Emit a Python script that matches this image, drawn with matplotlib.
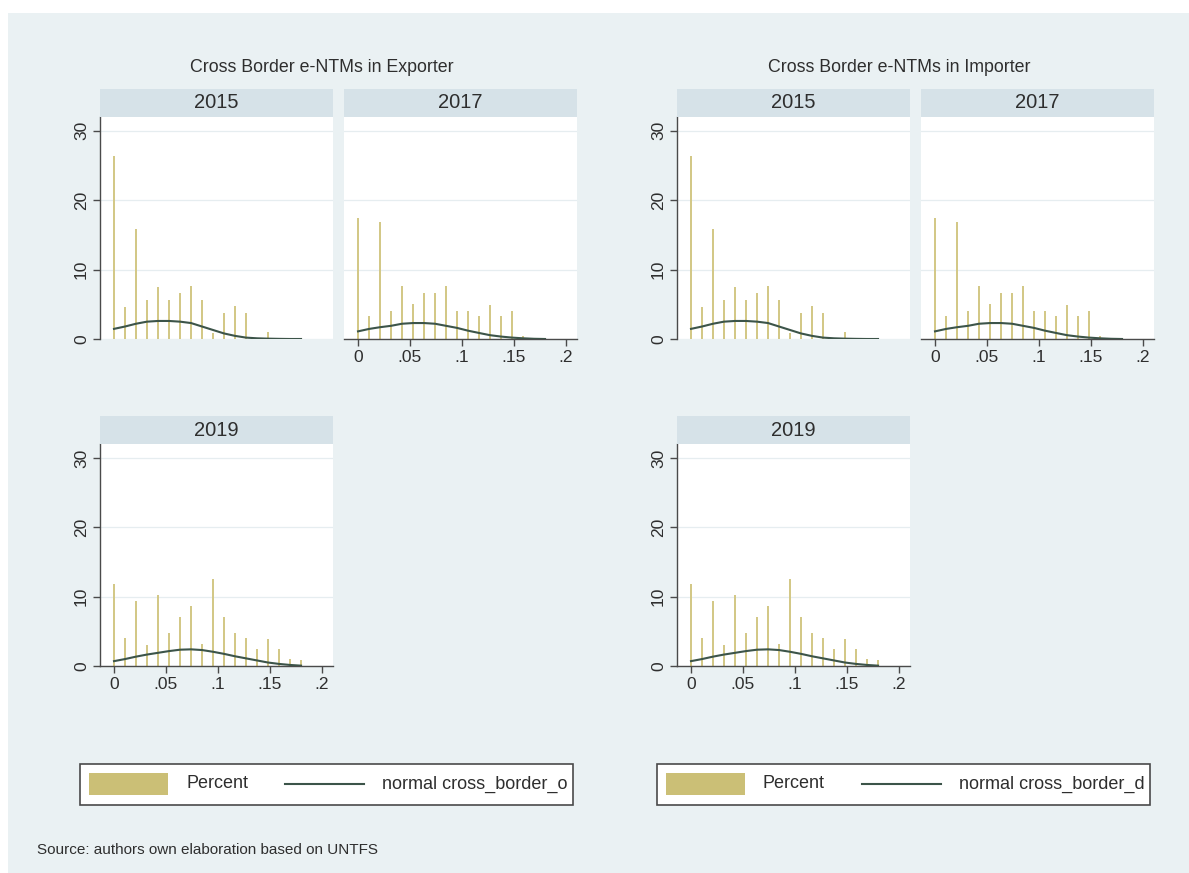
import matplotlib
matplotlib.use("Agg")
import matplotlib.pyplot as plt
from matplotlib.patches import Rectangle
from matplotlib.lines import Line2D

plt.rcParams['font.family'] = ['Liberation Sans', 'DejaVu Sans']

W, H, DPI = 1189, 873, 100

# histogram bins (share of e-NTMs) and percent per bin
bins = [0, .0106, .0212, .0318, .0424, .053, .0636, .0742, .0848,
        .0954, .106, .1166, .1272, .1378, .1484, .159, .1696, .1802]

pct_2015 = [26.4, 4.6, 15.8, 5.6, 7.5, 5.6, 6.6, 7.6, 5.6,
            0.8, 3.7, 4.7, 3.7, 0, 1.0, 0, 0, 0]
pct_2017 = [17.5, 3.3, 16.8, 4.0, 7.6, 5.1, 6.6, 6.6, 7.6,
            4.0, 4.1, 3.3, 4.9, 3.3, 4.1, 0.4, 0, 0]
pct_2019 = [11.8, 4.0, 9.3, 3.0, 10.3, 4.7, 7.0, 8.65, 3.1,
            12.6, 7.0, 4.7, 4.0, 2.5, 3.85, 2.4, 1.0, 0.8]

# overlaid normal curve (percent scale)
norm_2015 = [1.46, 1.8, 2.2, 2.5, 2.6, 2.6, 2.5, 2.3, 1.8,
             1.3, 0.8, 0.45, 0.2, 0.1, 0.05, 0.02, 0.0, 0.0]
norm_2017 = [1.1, 1.45, 1.7, 1.9, 2.2, 2.3, 2.3, 2.2, 1.9,
             1.6, 1.2, 0.87, 0.55, 0.35, 0.2, 0.1, 0.03, 0.0]
norm_2019 = [0.7, 1.0, 1.35, 1.65, 1.9, 2.15, 2.35, 2.4, 2.3,
             2.05, 1.75, 1.4, 1.1, 0.8, 0.5, 0.3, 0.15, 0.05]

years = ['2015', '2017', '2019']
pct = {'2015': pct_2015, '2017': pct_2017, '2019': pct_2019}
norm = {'2015': norm_2015, '2017': norm_2017, '2019': norm_2019}

titles = ['Cross Border e-NTMs in Exporter', 'Cross Border e-NTMs in Importer']
curve_labels = ['normal cross_border_o', 'normal cross_border_d']
xticks = [0, .05, .1, .15, .2]
xticklabels = ['0', '.05', '.1', '.15', '.2']
yticks = [0, 10, 20, 30]

BG = '#eaf1f3'
STRIP = '#d6e2e8'
BAR = '#d3c887'
KEY = '#cbbf76'
LINE = '#3c5449'
AX = '#4a4a4a'
TXT = '#2e2e2e'


def fbox(x0, y0, x1, y1):
    # pixel box (top-left origin) -> figure rect
    return [x0 / W, 1 - y1 / H, (x1 - x0) / W, (y1 - y0) / H]


fig = plt.figure(figsize=(W / DPI, H / DPI), dpi=DPI)
fig.patch.set_facecolor('white')
fig.patches.append(Rectangle((8 / W, 0), 1, 1 - 13 / H, transform=fig.transFigure,
                             facecolor=BG, edgecolor='none', zorder=-10))

group_x = [100, 677]
panel_w, col_gap = 233, 244
rows = [(117, 339), (444, 666)]
slots = {'2015': (0, 0), '2017': (1, 0), '2019': (0, 1)}

for g, gx in enumerate(group_x):
    fig.text((gx + 222) / W, 1 - 67 / H, titles[g], ha='center', va='center',
             fontsize=12.8, color=TXT)
    for yr in years:
        c, r = slots[yr]
        x0 = gx + c * col_gap
        x1 = x0 + panel_w
        top, bot = rows[r]
        ax = fig.add_axes(fbox(x0, top, x1, bot))
        ax.set_facecolor('white')
        ax.bar(bins, pct[yr], width=0.0028, color=BAR, linewidth=0, zorder=2)
        ax.plot(bins, norm[yr], color=LINE, lw=1.5, zorder=3)
        ax.set_xlim(-0.0135, 0.211)
        ax.set_ylim(0, 32)
        ax.set_yticks(yticks)
        ax.yaxis.grid(True, color='#e6edf0', lw=0.9)
        ax.set_axisbelow(True)
        for s in ['top', 'right']:
            ax.spines[s].set_visible(False)
        for s in ['left', 'bottom']:
            ax.spines[s].set_color(AX)
            ax.spines[s].set_linewidth(1.0)
        if c == 0:
            ax.tick_params(axis='y', length=5, width=1, color=AX, labelsize=12.5,
                           labelcolor=TXT, pad=3, labelrotation=90)
            for lab in ax.get_yticklabels():
                lab.set_va('center')
        else:
            ax.spines['left'].set_visible(False)
            ax.tick_params(axis='y', left=False, labelleft=False)
        if yr == '2015':
            ax.spines['bottom'].set_visible(False)
            ax.tick_params(axis='x', bottom=False, labelbottom=False)
        else:
            ax.set_xticks(xticks)
            ax.set_xticklabels(xticklabels)
            ax.tick_params(axis='x', length=5, width=1, color=AX, labelsize=12.5,
                           labelcolor=TXT, pad=3)
        # panel strip
        fig.patches.append(Rectangle((x0 / W, 1 - top / H), panel_w / W, 28 / H,
                                     transform=fig.transFigure, facecolor=STRIP,
                                     edgecolor='none'))
        fig.text((x0 + x1) / 2 / W, 1 - (top - 14) / H, yr, ha='center', va='center',
                 fontsize=14.5, color=TXT)

    # legend box
    lx = gx - 20
    fig.patches.append(Rectangle((lx / W, 1 - 805 / H), 493 / W, 41 / H,
                                 transform=fig.transFigure, facecolor='white',
                                 edgecolor=AX, linewidth=1.2))
    fig.patches.append(Rectangle(((lx + 9) / W, 1 - 795 / H), 79 / W, 22 / H,
                                 transform=fig.transFigure, facecolor=KEY,
                                 edgecolor='none'))
    fig.text((lx + 106) / W, 1 - 784 / H, 'Percent', ha='left', va='center',
             fontsize=13, color=TXT)
    fig.lines.append(Line2D([(lx + 205) / W, (lx + 284) / W], [1 - 784 / H] * 2,
                            transform=fig.transFigure, color=LINE, lw=1.5))
    fig.text((lx + 302) / W, 1 - 784 / H, curve_labels[g], ha='left', va='center',
             fontsize=13, color=TXT)

fig.text(37 / W, 1 - 850 / H, 'Source: authors own elaboration based on UNTFS',
         ha='left', va='center', fontsize=11, color=TXT)

fig.savefig('out.png', dpi=DPI)
